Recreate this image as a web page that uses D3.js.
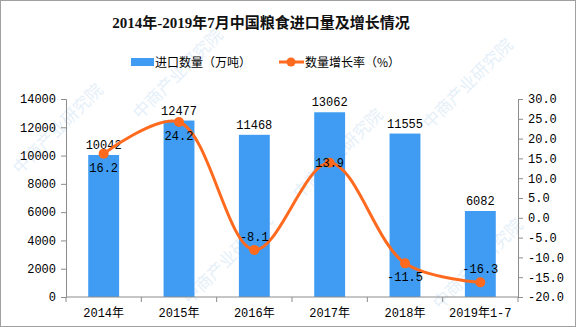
<!DOCTYPE html>
<html>
<head>
<meta charset="utf-8">
<script src="https://cdn.jsdelivr.net/npm/d3@7"></script>
<style>
  html, body { margin: 0; padding: 0; background: #fff; }
  svg { display: block; }
  .num { font-family: 'Liberation Mono', 'Noto Sans CJK SC', monospace; font-size: 12px; fill: #000; }
  .cjk { font-family: 'Noto Sans CJK SC', sans-serif; font-size: 12px; fill: #000; }
</style>
</head>
<body>
<script>
// Grain imports of China, 2014 – Jul 2019
const categories = ["2014年", "2015年", "2016年", "2017年", "2018年", "2019年1-7"];
const importVolume = [10042, 12477, 11468, 13062, 11555, 6082];   // 万吨
const growthRate = [16.2, 24.2, -8.1, 13.9, -11.5, -16.3];        // %
const leftTicks = [0, 2000, 4000, 6000, 8000, 10000, 12000, 14000];
const rightTicks = [-20, -15, -10, -5, 0, 5, 10, 15, 20, 25, 30];
// where each growth label sits relative to its point
const growthLabelSide = ["below", "below", "above", "center", "below", "above"];

const W = 576, H = 327;
const margin = { left: 66, right: 58, top: 99, bottom: 30 };
const plotW = W - margin.left - margin.right;
const plotH = H - margin.top - margin.bottom;

const svg = d3.select("body").append("svg").attr("width", W).attr("height", H);

svg.append("rect").attr("x", 0.5).attr("y", 0.5).attr("width", W - 1).attr("height", H - 1)
  .attr("fill", "#fff").attr("stroke", "#a0a0a0");

// faint watermark
const wm = svg.append("g").attr("pointer-events", "none");
const wmPos = [[20, 175], [140, 120], [190, 305], [300, 200], [430, 130], [440, 310]];
wmPos.forEach(([x, y]) => {
  wm.append("text").attr("transform", `translate(${x},${y}) rotate(-45)`)
    .attr("font-family", "'Noto Sans CJK SC', sans-serif").attr("font-size", 17)
    .attr("fill", "#e6f0f9").text("中商产业研究院");
});

const g = svg.append("g").attr("transform", `translate(${margin.left},${margin.top})`);

const x = d3.scaleBand().domain(categories).range([0, plotW]).paddingInner(0.59).paddingOuter(0.295);
const yL = d3.scaleLinear().domain([0, 14000]).range([plotH, 0]);
const yR = d3.scaleLinear().domain([-20, 30]).range([plotH, 0]);

// bars
g.selectAll("rect.bar").data(importVolume).join("rect").attr("class", "bar")
  .attr("x", (d, i) => x(categories[i]))
  .attr("y", d => yL(d))
  .attr("width", x.bandwidth())
  .attr("height", d => plotH - yL(d))
  .attr("fill", "#3f9cf2");

// bar value labels
g.selectAll("text.barLabel").data(importVolume).join("text").attr("class", "num barLabel")
  .attr("x", (d, i) => x(categories[i]) + x.bandwidth() / 2)
  .attr("y", d => yL(d) - 6)
  .attr("text-anchor", "middle")
  .text(d => d);

// axes
const axisColor = "#8c8c8c";
const styleAxis = sel => {
  sel.selectAll("path, line").attr("stroke", axisColor);
  sel.selectAll("text").attr("class", "num").attr("fill", "#000");
};

const bandEdges = d3.range(categories.length + 1).map(i => i * plotW / categories.length);
const xAxis = g.append("g").attr("transform", `translate(0,${plotH})`);
xAxis.append("line").attr("x1", 0).attr("x2", plotW).attr("stroke", axisColor);
xAxis.selectAll("line.tick").data(bandEdges).join("line").attr("class", "tick")
  .attr("x1", d => d).attr("x2", d => d).attr("y1", 0).attr("y2", 5).attr("stroke", axisColor);
xAxis.selectAll("text").data(categories).join("text").attr("class", "num")
  .attr("x", d => x(d) + x.bandwidth() / 2).attr("y", 20).attr("text-anchor", "middle").text(d => d);

const leftAxis = g.append("g").call(d3.axisLeft(yL).tickValues(leftTicks).tickSize(5).tickPadding(5).tickFormat(d3.format("d")));
styleAxis(leftAxis);
leftAxis.select(".domain").attr("d", `M-5,${plotH + 0.5}H0.5V0.5H-5`);

const rightAxis = g.append("g").attr("transform", `translate(${plotW},0)`)
  .call(d3.axisRight(yR).tickValues(rightTicks).tickSize(5).tickPadding(5).tickFormat(d3.format(".1f")));
styleAxis(rightAxis);
rightAxis.selectAll("text").text(d => d3.format(".1f")(d).replace("−", "-"));

// growth line
const orange = "#ff6a1f";
const line = d3.line()
  .x((d, i) => x(categories[i]) + x.bandwidth() / 2)
  .y(d => yR(d))
  .curve(d3.curveCatmullRom.alpha(0.5));
g.append("path").datum(growthRate).attr("d", line)
  .attr("fill", "none").attr("stroke", orange).attr("stroke-width", 3);
g.selectAll("circle.pt").data(growthRate).join("circle").attr("class", "pt")
  .attr("cx", (d, i) => x(categories[i]) + x.bandwidth() / 2)
  .attr("cy", d => yR(d)).attr("r", 5).attr("fill", orange);

const labelDy = { below: 18, above: -9, center: 4 };
g.selectAll("text.rateLabel").data(growthRate).join("text").attr("class", "num rateLabel")
  .attr("x", (d, i) => x(categories[i]) + x.bandwidth() / 2)
  .attr("y", (d, i) => yR(d) + labelDy[growthLabelSide[i]])
  .attr("text-anchor", "middle")
  .text(d => d3.format(".1f")(d).replace("−", "-"));

// title
svg.append("text").attr("x", 261).attr("y", 28).attr("text-anchor", "middle")
  .attr("font-family", "'Liberation Serif', 'Noto Sans CJK SC', serif")
  .attr("font-size", 15).attr("font-weight", "bold").attr("fill", "#111")
  .text("2014年-2019年7月中国粮食进口量及增长情况");

// legend
const lg = svg.append("g");
lg.append("rect").attr("x", 131).attr("y", 58).attr("width", 23).attr("height", 8).attr("fill", "#3f9cf2");
lg.append("text").attr("class", "cjk").attr("x", 155).attr("y", 67).text("进口数量（万吨）");
lg.append("line").attr("x1", 279).attr("x2", 304).attr("y1", 62).attr("y2", 62).attr("stroke", orange).attr("stroke-width", 3);
lg.append("circle").attr("cx", 291).attr("cy", 62).attr("r", 4.5).attr("fill", orange);
lg.append("text").attr("class", "cjk").attr("x", 305).attr("y", 67).text("数量增长率（%）");
</script>
</body>
</html>
